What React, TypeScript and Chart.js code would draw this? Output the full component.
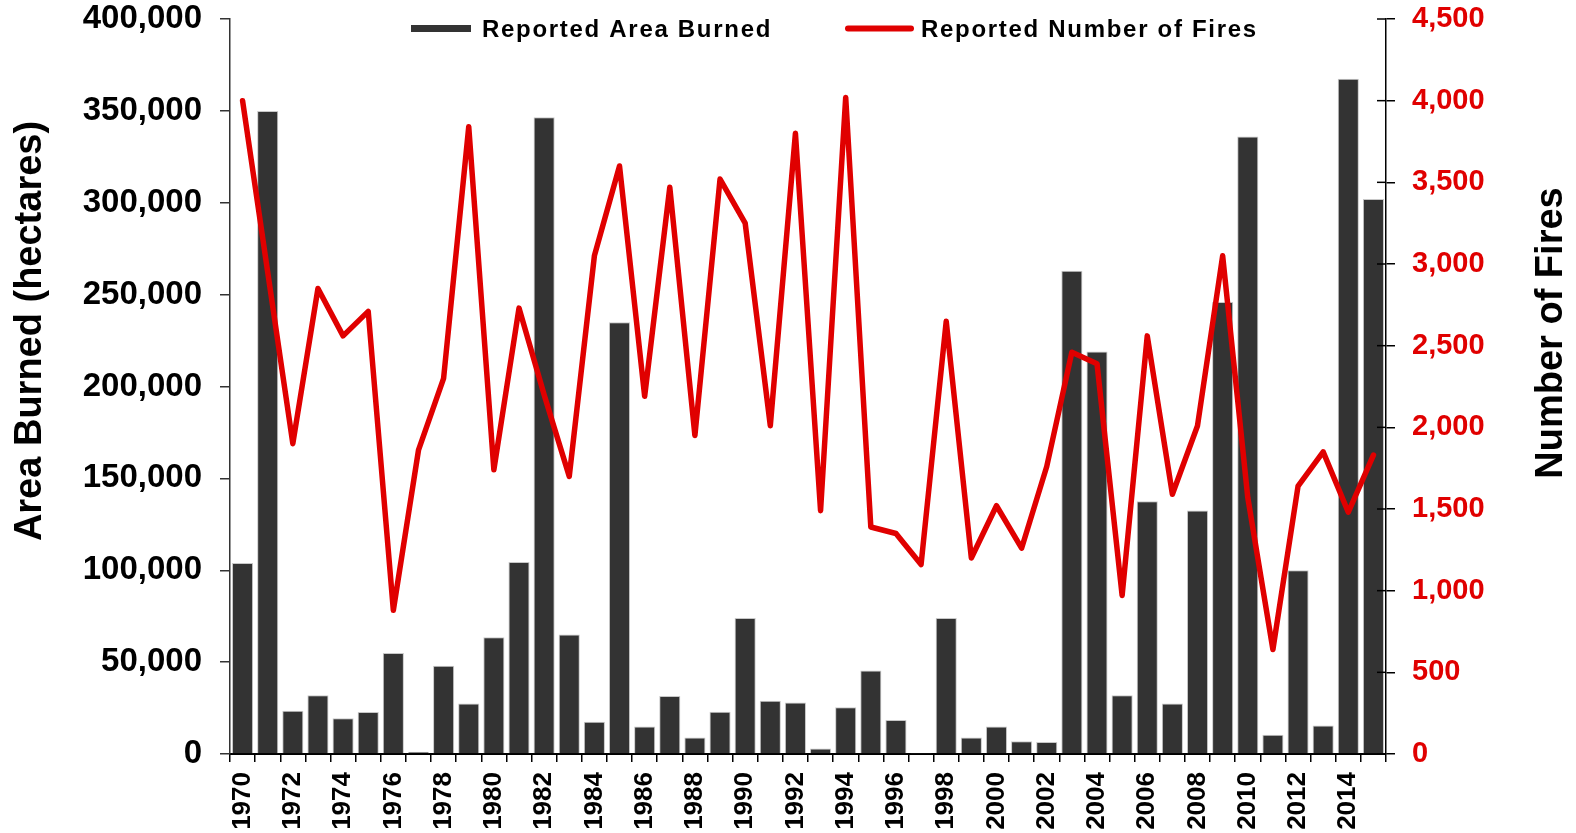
import React, { useEffect, useRef } from "react";
import { Chart, registerables } from "chart.js";

Chart.register(...registerables);

const years = [
  "1970", "1971", "1972", "1973", "1974", "1975", "1976", "1977", "1978", "1979",
  "1980", "1981", "1982", "1983", "1984", "1985", "1986", "1987", "1988", "1989",
  "1990", "1991", "1992", "1993", "1994", "1995", "1996", "1997", "1998", "1999",
  "2000", "2001", "2002", "2003", "2004", "2005", "2006", "2007", "2008", "2009",
  "2010", "2011", "2012", "2013", "2014", "2015",
];

const areaBurned = [
  104000, 350000, 23500, 32000, 19500, 22800, 55000, 1200, 48000, 27500,
  63500, 104500, 346500, 65000, 17500, 235000, 15000, 31500, 9000, 23000,
  74000, 29000, 28000, 3000, 25500, 45500, 18500, 300, 74000, 9000,
  15000, 7000, 6500, 263000, 219000, 32000, 137500, 27500, 132500, 246000,
  336000, 10500, 100000, 15500, 367500, 302000,
];

const numberOfFires = [
  4000, 2950, 1900, 2850, 2560, 2710, 880, 1860, 2300, 3840,
  1740, 2730, 2200, 1700, 3050, 3600, 2190, 3470, 1950, 3520,
  3250, 2010, 3800, 1490, 4020, 1390, 1350, 1160, 2650, 1200,
  1520, 1260, 1760, 2460, 2390, 970, 2560, 1590, 2010, 3050,
  1570, 640, 1640, 1850, 1480, 1830,
];

const areaAxis = { min: 0, max: 400000, step: 50000 };
const firesAxis = { min: 0, max: 4500, step: 500 };

const seriesNames = ["Reported Area Burned", "Reported Number of Fires"];
const axisTitles = { left: "Area Burned (hectares)", right: "Number of Fires" };

const BAR_COLOR = "#333333";
const LINE_COLOR = "#E00000";
const FONT = '"Liberation Sans", Arial, Helvetica, sans-serif';

const overlayPlugin = {
  id: "overlay",
  afterDraw(chart: any) {
    const ctx = chart.ctx as CanvasRenderingContext2D;
    const ca = chart.chartArea;
    ctx.save();

    // inner half of crossing ticks on the right axis
    const y1 = chart.scales.y1;
    ctx.strokeStyle = "#000";
    ctx.lineWidth = 1.5;
    y1.ticks.forEach((t: any) => {
      const y = y1.getPixelForValue(t.value);
      ctx.beginPath();
      ctx.moveTo(ca.right - 9, y);
      ctx.lineTo(ca.right, y);
      ctx.stroke();
    });

    // axis titles (both read bottom to top)
    ctx.fillStyle = "#000";
    ctx.textAlign = "center";
    ctx.textBaseline = "middle";
    ctx.font = `bold 38px ${FONT}`;
    ctx.save();
    ctx.translate(31, 331);
    ctx.rotate(-Math.PI / 2);
    ctx.fillText(axisTitles.left, 0, 0);
    ctx.restore();
    ctx.save();
    ctx.translate(1552, 333);
    ctx.rotate(-Math.PI / 2);
    ctx.fillText(axisTitles.right, 0, 0);
    ctx.restore();

    // legend
    const ly = 28.5;
    ctx.lineCap = "butt";
    ctx.strokeStyle = BAR_COLOR;
    ctx.lineWidth = 7;
    ctx.beginPath();
    ctx.moveTo(411, ly);
    ctx.lineTo(471, ly);
    ctx.stroke();

    ctx.lineCap = "round";
    ctx.strokeStyle = LINE_COLOR;
    ctx.lineWidth = 6;
    ctx.beginPath();
    ctx.moveTo(848, ly);
    ctx.lineTo(911, ly);
    ctx.stroke();

    ctx.font = `bold 24px ${FONT}`;
    (ctx as any).letterSpacing = "1.7px";
    ctx.textAlign = "left";
    ctx.textBaseline = "alphabetic";
    ctx.fillStyle = "#000";
    ctx.fillText(seriesNames[0], 482, 37);
    ctx.fillText(seriesNames[1], 921, 37);
    ctx.restore();
  },
};

export default function App() {
  const canvasRef = useRef<HTMLCanvasElement | null>(null);

  useEffect(() => {
    document.body.style.margin = "0";
    const canvas = canvasRef.current;
    if (!canvas) return;
    const chart = new Chart(canvas, {
      type: "bar",
      data: {
        labels: years,
        datasets: [
          {
            type: "line",
            label: seriesNames[1],
            data: numberOfFires,
            yAxisID: "y1",
            borderColor: LINE_COLOR,
            backgroundColor: LINE_COLOR,
            borderWidth: 5.5,
            pointRadius: 0,
            tension: 0,
            borderJoinStyle: "round",
            borderCapStyle: "round",
            order: 0,
          } as any,
          {
            type: "bar",
            label: seriesNames[0],
            data: areaBurned,
            yAxisID: "y",
            backgroundColor: BAR_COLOR,
            borderColor: "#c8c8c8",
            borderWidth: 1,
            barPercentage: 1,
            categoryPercentage: 0.84,
            order: 1,
          } as any,
        ],
      },
      options: {
        responsive: false,
        maintainAspectRatio: false,
        animation: false,
        layout: { padding: { top: 19, left: 0, right: 0, bottom: 0 } },
        plugins: {
          legend: { display: false },
          tooltip: { enabled: false },
        },
        scales: {
          x: {
            offset: true,
            grid: {
              display: true,
              offset: true,
              drawOnChartArea: false,
              drawTicks: true,
              tickLength: 8,
              color: "#000",
              lineWidth: 1.5,
            },
            border: { display: true, color: "#000", width: 2 },
            ticks: {
              autoSkip: false,
              minRotation: 90,
              maxRotation: 90,
              padding: 10,
              color: "#000",
              font: { family: FONT, size: 26, weight: "bold" },
              callback: (_v: any, i: number) => (i % 2 === 0 ? years[i] : ""),
            },
            afterFit: (s: any) => {
              s.height = 79;
              s.paddingLeft = 0;
              s.paddingRight = 0;
            },
          },
          y: {
            position: "left",
            min: areaAxis.min,
            max: areaAxis.max,
            grid: {
              display: true,
              drawOnChartArea: false,
              drawTicks: true,
              tickLength: 10,
              color: "#333",
              lineWidth: 1.5,
            },
            border: { display: true, color: "#333", width: 1.5 },
            ticks: {
              stepSize: areaAxis.step,
              padding: 18,
              color: "#000",
              font: { family: FONT, size: 33, weight: "bold" },
              callback: (v: any) => Number(v).toLocaleString("en-US"),
            },
            afterFit: (s: any) => {
              s.width = 230;
              s.paddingTop = 0;
              s.paddingBottom = 0;
            },
          },
          y1: {
            position: "right",
            min: firesAxis.min,
            max: firesAxis.max,
            grid: {
              display: true,
              drawOnChartArea: false,
              drawTicks: true,
              tickLength: 9,
              color: "#000",
              lineWidth: 1.5,
            },
            border: { display: true, color: "#000", width: 1.5 },
            ticks: {
              stepSize: firesAxis.step,
              padding: 17,
              color: LINE_COLOR,
              font: { family: FONT, size: 29, weight: "bold" },
              callback: (v: any) => Number(v).toLocaleString("en-US"),
            },
            afterFit: (s: any) => {
              s.width = 190;
              s.paddingTop = 0;
              s.paddingBottom = 0;
            },
          },
        },
      } as any,
      plugins: [overlayPlugin],
    });
    return () => chart.destroy();
  }, []);

  return (
    <div style={{ width: 1576, height: 833, background: "#fff" }}>
      <canvas
        ref={canvasRef}
        width={1576}
        height={833}
        style={{ display: "block", width: 1576, height: 833 }}
      />
    </div>
  );
}
